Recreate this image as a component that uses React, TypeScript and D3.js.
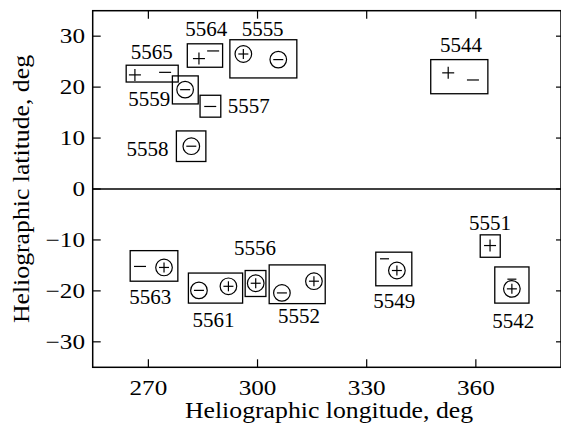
import React from "react";
import * as d3 from "d3";

// Axis ticks
const xTicks = [270, 300, 330, 360];
const yTicks = [-30, -20, -10, 0, 10, 20, 30];

// Active-region boxes: [region, lonMin, lonMax, latMin, latMax]
const boxes: [string, number, number, number, number][] = [
  ["5565", 263.9, 278.2, 21.0, 24.3],
  ["5559", 276.6, 283.7, 16.7, 22.2],
  ["5564", 280.7, 290.4, 23.9, 28.5],
  ["5555", 292.4, 310.8, 21.8, 29.3],
  ["5557", 284.2, 289.9, 14.1, 18.4],
  ["5558", 277.7, 285.8, 5.4, 11.4],
  ["5544", 347.6, 363.3, 18.7, 25.4],
  ["5563", 265.0, 278.1, -18.1, -12.1],
  ["5561", 281.0, 295.9, -22.4, -16.5],
  ["5556", 296.6, 302.3, -21.1, -16.0],
  ["5552", 303.2, 318.6, -22.5, -14.9],
  ["5549", 332.5, 342.4, -19.0, -12.4],
  ["5551", 361.2, 366.7, -13.4, -9.0],
  ["5542", 365.2, 374.6, -22.4, -15.3],
];

// Polarity symbols: [region, type, lon, lat]
// cp = circled plus, cm = circled minus, p = plus, m = minus, b = short bar
const symbols: [string, string, number, number][] = [
  ["5565", "p", 266.3, 22.4],
  ["5565", "m", 274.6, 22.9],
  ["5559", "cm", 280.1, 19.5],
  ["5564", "p", 283.9, 25.6],
  ["5564", "m", 287.8, 27.1],
  ["5555", "cp", 296.1, 26.5],
  ["5555", "cm", 305.7, 25.4],
  ["5557", "m", 287.0, 16.2],
  ["5558", "cm", 281.8, 8.4],
  ["5544", "p", 352.4, 22.8],
  ["5544", "m", 359.2, 21.4],
  ["5563", "m", 267.7, -15.2],
  ["5563", "cp", 274.3, -15.4],
  ["5561", "cm", 283.9, -19.9],
  ["5561", "cp", 292.0, -19.1],
  ["5556", "cp", 299.5, -18.5],
  ["5552", "cm", 306.7, -20.4],
  ["5552", "cp", 315.5, -18.1],
  ["5549", "b", 334.9, -13.7],
  ["5549", "cp", 338.3, -16.0],
  ["5551", "p", 363.9, -11.1],
  ["5542", "b", 369.9, -17.7],
  ["5542", "cp", 369.9, -19.6],
];

// Region number labels: [region, lon, lat(baseline), anchor]
const labels: [string, number, number, string][] = [
  ["5565", 270.9, 25.6, "middle"],
  ["5559", 276.0, 16.2, "end"],
  ["5564", 285.9, 30.0, "middle"],
  ["5555", 301.4, 30.0, "middle"],
  ["5557", 291.8, 15.0, "start"],
  ["5558", 275.5, 6.4, "end"],
  ["5544", 355.9, 26.8, "middle"],
  ["5563", 270.5, -22.5, "middle"],
  ["5561", 287.9, -27.1, "middle"],
  ["5556", 299.3, -12.9, "middle"],
  ["5552", 311.4, -26.4, "middle"],
  ["5549", 337.6, -23.4, "middle"],
  ["5551", 363.9, -8.0, "middle"],
  ["5542", 370.3, -27.3, "middle"],
];

const W = 561;
const H = 426;
const left = 92.7;
const right = 561;
const top = 10.7;
const bottom = 367.3;
const FONT = "'Liberation Serif', 'Times New Roman', serif";

function SText({
  x,
  y,
  sx,
  size,
  anchor,
  rotate,
  children,
}: {
  x: number;
  y: number;
  sx: number;
  size: number;
  anchor: string;
  rotate?: number;
  children: React.ReactNode;
}) {
  return (
    <text
      transform={`translate(${x},${y})${rotate ? ` rotate(${rotate})` : ""} scale(${sx},1)`}
      textAnchor={anchor as any}
      fontSize={size}
      fill="#000"
    >
      {children}
    </text>
  );
}

export default function App() {
  const x = d3.scaleLinear().domain([254.7, 383.4]).range([left, right]);
  const y = d3.scaleLinear().domain([-35, 35]).range([bottom, top]);
  const sw = 1.3;

  const renderSymbol = (s: [string, string, number, number], i: number) => {
    const [, type, lon, lat] = s;
    const cx = x(lon);
    const cy = y(lat);
    const r = 8.3;
    const h = 5;
    if (type === "cp" || type === "cm") {
      return (
        <g key={"s" + i} stroke="#000" strokeWidth={1.2} fill="none">
          <circle cx={cx} cy={cy} r={r} />
          <line x1={cx - h} x2={cx + h} y1={cy} y2={cy} />
          {type === "cp" && <line x1={cx} x2={cx} y1={cy - h} y2={cy + h} />}
        </g>
      );
    }
    if (type === "p") {
      return (
        <g key={"s" + i} stroke="#000" strokeWidth={1.2}>
          <line x1={cx - 6} x2={cx + 6} y1={cy} y2={cy} />
          <line x1={cx} x2={cx} y1={cy - 6} y2={cy + 6} />
        </g>
      );
    }
    if (type === "m") {
      return (
        <line key={"s" + i} x1={cx - 6} x2={cx + 6} y1={cy} y2={cy} stroke="#000" strokeWidth={1.2} />
      );
    }
    return (
      <line key={"s" + i} x1={cx - 4.5} x2={cx + 4.5} y1={cy} y2={cy} stroke="#000" strokeWidth={1.2} />
    );
  };

  return (
    <svg
      width={W}
      height={H}
      style={{ position: "absolute", left: 0, top: 0, background: "#fff" }}
      fontFamily={FONT}
    >
      <rect x={0} y={0} width={W} height={H} fill="#fff" />
      {/* frame */}
      <rect x={left} y={top} width={right - left} height={bottom - top} fill="none" stroke="#000" strokeWidth={1.5} />
      {/* zero line */}
      <line x1={left} x2={right} y1={y(0)} y2={y(0)} stroke="#000" strokeWidth={1.5} />
      {/* x ticks */}
      {xTicks.map((t) => (
        <g key={"xt" + t}>
          <line x1={x(t)} x2={x(t)} y1={bottom} y2={bottom - 8} stroke="#000" strokeWidth={1.2} />
          <line x1={x(t)} x2={x(t)} y1={top} y2={top + 8} stroke="#000" strokeWidth={1.2} />
          <SText x={x(t)} y={395} sx={1.2} size={21} anchor="middle">
            {t}
          </SText>
        </g>
      ))}
      {/* y ticks */}
      {yTicks.map((t) => (
        <g key={"yt" + t}>
          <line x1={left} x2={left + 8} y1={y(t)} y2={y(t)} stroke="#000" strokeWidth={1.2} />
          <line x1={right} x2={right - 5} y1={y(t)} y2={y(t)} stroke="#000" strokeWidth={1.2} />
          <SText x={85} y={y(t) + 7} sx={1.2} size={21} anchor="end">
            {t < 0 ? "\u2212" + Math.abs(t) : String(t)}
          </SText>
        </g>
      ))}
      {/* axis titles */}
      <SText x={329} y={418} sx={1.12} size={23} anchor="middle">
        Heliographic longitude, deg
      </SText>
      <SText x={29} y={y(0)} sx={1.12} size={23} anchor="middle" rotate={-90}>
        Heliographic latitude, deg
      </SText>
      {/* boxes */}
      {boxes.map(([id, l0, l1, b0, b1]) => (
        <rect
          key={"b" + id}
          x={x(l0)}
          y={y(b1)}
          width={x(l1) - x(l0)}
          height={y(b0) - y(b1)}
          fill="none"
          stroke="#000"
          strokeWidth={sw}
        />
      ))}
      {symbols.map(renderSymbol)}
      {labels.map(([id, lon, lat, anchor]) => (
        <SText key={"l" + id} x={x(lon)} y={y(lat)} sx={1.05} size={20} anchor={anchor}>
          {id}
        </SText>
      ))}
    </svg>
  );
}
